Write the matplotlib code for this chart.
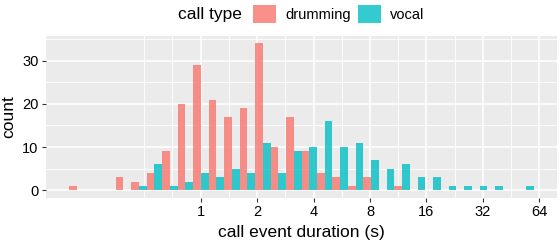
import numpy as np
import matplotlib
matplotlib.use("Agg")
from matplotlib import pyplot as plt
from matplotlib.patches import Patch
from matplotlib.ticker import NullFormatter

# histogram of call event durations, 30 bins on a log2 scale
bin_start_log2 = -2.33
bin_width_log2 = 0.2744
drumming = [1, 0, 0, 3, 2, 4, 9, 20, 29, 21, 17, 19, 34, 10, 17,
            9, 4, 3, 1, 3, 0, 1, 0, 0, 0, 0, 0, 0, 0, 0]
vocal = [0, 0, 0, 0, 1, 6, 1, 2, 4, 3, 5, 4, 11, 4, 9,
         10, 16, 10, 11, 7, 5, 6, 3, 3, 1, 1, 1, 1, 0, 1]
call_types = ["drumming", "vocal"]
colors = ["#F8766D", "#00BFC4"]
x_breaks = [1, 2, 4, 8, 16, 32, 64]
y_breaks = [0, 10, 20, 30]

plt.rcParams["font.family"] = ["Liberation Sans", "DejaVu Sans"]

n = len(drumming)
lo = bin_start_log2 + bin_width_log2 * np.arange(n)
mid = lo + bin_width_log2 / 2
hi = lo + bin_width_log2

fig = plt.figure(figsize=(5.6, 2.42), dpi=100)
ax = fig.add_axes([46 / 560, 1 - 197.6 / 242, 511 / 560, 161.6 / 242])
ax.set_facecolor("#EBEBEB")
ax.set_xscale("log", base=2)

ax.bar(x=2.0 ** lo, height=drumming, width=2.0 ** mid - 2.0 ** lo, align="edge",
       color=colors[0], alpha=0.8, linewidth=0, zorder=3)
ax.bar(x=2.0 ** mid, height=vocal, width=2.0 ** hi - 2.0 ** mid, align="edge",
       color=colors[1], alpha=0.8, linewidth=0, zorder=3)

# scale limits like ggplot (5% expansion)
xr = hi[-1] - lo[0]
ax.set_xlim(2.0 ** (lo[0] - 0.05 * xr), 2.0 ** (hi[-1] + 0.05 * xr))
ymax = max(max(drumming), max(vocal))
ax.set_ylim(-0.05 * ymax, 1.05 * ymax)

ax.set_xticks(x_breaks)
ax.set_xticklabels([str(b) for b in x_breaks])
minor_x = [2.0 ** (e + 0.5) for e in range(-1, 6)] + [0.5]
ax.set_xticks(minor_x, minor=True)
ax.xaxis.set_minor_formatter(NullFormatter())
ax.set_yticks(y_breaks)
ax.set_yticks([5, 15, 25, 35], minor=True)

ax.grid(True, which="major", color="white", linewidth=1.1, zorder=0)
ax.grid(True, which="minor", color="white", linewidth=0.6, zorder=0)
ax.set_axisbelow(True)
for s in ax.spines.values():
    s.set_visible(False)
ax.tick_params(which="major", length=3, width=0.8, color="#333333",
               labelsize=10.5, labelcolor="black", pad=2.5)
ax.tick_params(which="minor", length=0)

ax.set_xlabel("call event duration (s)", fontsize=12.5, labelpad=4.5)
ax.set_ylabel("count", fontsize=12.5, labelpad=4)

# legend on top
fig.text(178 / 560, 1 - 15 / 242, "call type", fontsize=12.5, va="center", ha="left")
handles = [Patch(facecolor=c, alpha=0.8, edgecolor="none") for c in colors]
fig.legend(handles, call_types, ncol=2, frameon=False, fontsize=10.5,
           loc="center left", bbox_to_anchor=(253 / 560, 1 - 14 / 242),
           handlelength=1.55, handleheight=1.55, handletextpad=0.65,
           columnspacing=0.5, borderpad=0, borderaxespad=0)

plt.savefig("out.png", dpi=100)
